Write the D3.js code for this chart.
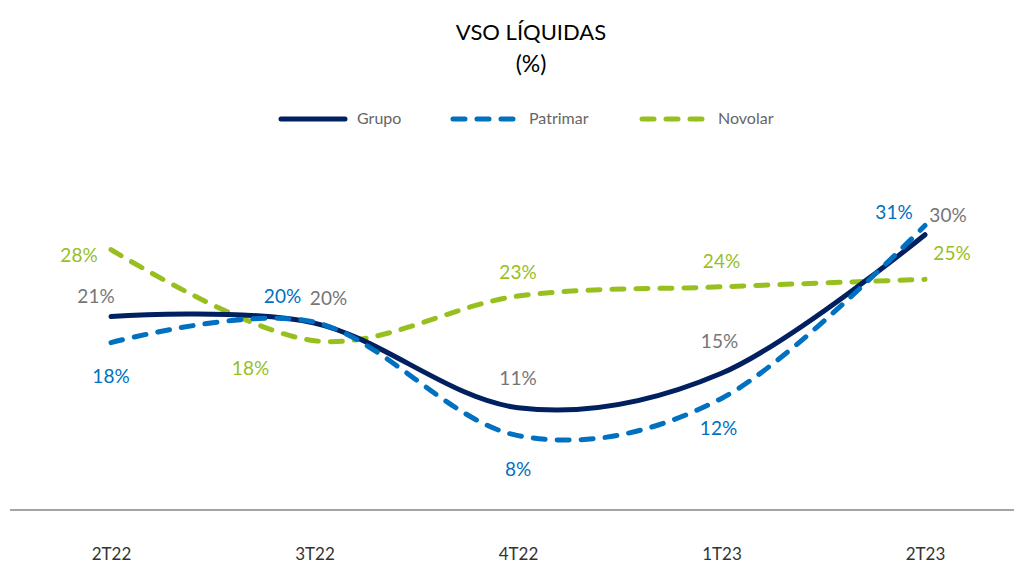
<!DOCTYPE html>
<html>
<head>
<meta charset="utf-8">
<script src="https://cdn.jsdelivr.net/npm/d3@7"></script>
<style>
  html, body { margin: 0; padding: 0; background: #fff; }
  svg { display: block; font-family: Lato, "Open Sans", sans-serif; }
</style>
</head>
<body>
<svg id="chart" width="1014" height="563"></svg>
<script>
// categorias e valores (%)
const categories = ["2T22", "3T22", "4T22", "1T23", "2T23"];
const grupo = [20.8, 20.1, 11.0, 14.7, 29.6];
const patrimar = [18.0, 20.2, 8.0, 12.0, 30.6];
const novolar = [28.0, 18.2, 23.0, 24.0, 24.8];
const grupoLabels = ["21%", "20%", "11%", "15%", "30%"];
const patrimarLabels = ["18%", "20%", "8%", "12%", "31%"];
const novolarLabels = ["28%", "18%", "23%", "24%", "25%"];

(function () {
  const svg = d3.select("#chart");
  const W = 1014;

  const x = d3.scalePoint().domain(categories).range([111, 925]);
  const y = d3.scaleLinear().domain([0, 30]).range([510, 231]);

  const series = [
    { name: "Grupo", values: grupo, labels: grupoLabels, color: "#002060", labelColor: "#767676", dash: null,
      // deslocamento dos rótulos em relação ao ponto
      off: [[-15, -21], [14, -25], [0, -30], [-2, -32], [23, -20]] },
    { name: "Patrimar", values: patrimar, labels: patrimarLabels, color: "#0070c0", labelColor: "#0070c0", dash: "12,12",
      off: [[0, 33], [-32, -26], [0, 33], [-3, 30], [-31, -13]] },
    { name: "Novolar", values: novolar, labels: novolarLabels, color: "#97c01f", labelColor: "#97c01f", dash: "12,12",
      off: [[-32, 5], [-64, 27], [0, -24], [0, -26], [27, -26]] }
  ];

  // título
  svg.append("text").attr("x", 531).attr("y", 40).attr("text-anchor", "middle")
    .attr("font-size", 22).attr("fill", "#000").text("VSO LÍQUIDAS");
  svg.append("text").attr("x", 531).attr("y", 72).attr("text-anchor", "middle")
    .attr("font-size", 23).attr("fill", "#000").text("(%)");

  // legenda
  const legendPos = [{ x: 281, tx: 357 }, { x: 453, tx: 529 }, { x: 642, tx: 718 }];
  const legend = svg.append("g").attr("class", "legend");
  series.forEach((s, i) => {
    const p = legendPos[i];
    legend.append("line")
      .attr("x1", p.x).attr("x2", p.x + 64)
      .attr("y1", 119).attr("y2", 119)
      .attr("stroke", s.color).attr("stroke-width", 5)
      .attr("stroke-linecap", "round")
      .attr("stroke-dasharray", s.dash ? "12,12" : null);
    legend.append("text").attr("x", p.tx).attr("y", 124)
      .attr("font-size", 16).attr("fill", "#666").text(s.name);
  });

  // eixo x
  svg.append("line").attr("x1", 10).attr("x2", W).attr("y1", 510).attr("y2", 510)
    .attr("stroke", "#868686").attr("stroke-width", 1.5);

  const xAxis = d3.axisBottom(x).tickSize(0).tickPadding(0);
  const gx = svg.append("g").attr("transform", "translate(0,510)").call(xAxis);
  gx.select(".domain").remove();
  gx.selectAll("text").attr("y", 50).attr("dy", 0)
    .attr("font-size", 17).attr("font-family", "Lato, sans-serif").attr("fill", "#333");

  const line = d3.line()
    .x((d, i) => x(categories[i]))
    .y(d => y(d))
    .curve(d3.curveCardinal.tension(0));

  // linhas (Novolar atrás, Grupo na frente)
  [series[2], series[0], series[1]].forEach(s => {
    svg.append("path")
      .datum(s.values)
      .attr("d", line)
      .attr("fill", "none")
      .attr("stroke", s.color)
      .attr("stroke-width", 5)
      .attr("stroke-linecap", "round")
      .attr("stroke-dasharray", s.dash);
  });

  // rótulos de dados
  series.forEach(s => {
    svg.append("g").selectAll("text")
      .data(s.values)
      .join("text")
      .attr("x", (d, i) => x(categories[i]) + s.off[i][0])
      .attr("y", (d, i) => y(d) + s.off[i][1] + 7)
      .attr("text-anchor", "middle")
      .attr("font-size", 19)
      .attr("fill", s.labelColor)
      .text((d, i) => s.labels[i]);
  });
})();
</script>
</body>
</html>
